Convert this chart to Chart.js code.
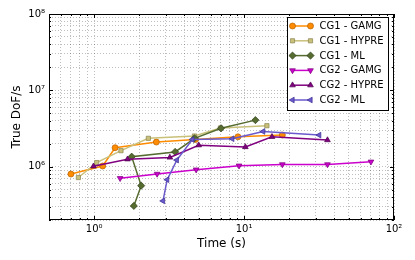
<!DOCTYPE html>
<html lang="en">
<head>
<meta charset="UTF-8">
<title>True DoF/s vs Time</title>
<script src="https://cdn.jsdelivr.net/npm/chart.js"></script>
<style>
  html, body { margin: 0; padding: 0; background: #fff; }
  #wrap { width: 415px; height: 260px; }
</style>
</head>
<body>
<div id="wrap"><canvas id="dofChart" width="415" height="260"></canvas></div>
<script>
// data (time in s, true DoF/s)
const seriesNames = ['CG1 - GAMG', 'CG1 - HYPRE', 'CG1 - ML', 'CG2 - GAMG', 'CG2 - HYPRE', 'CG2 - ML'];

const cg1GamgTime  = [0.70, 1.14, 1.38, 2.60, 4.74, 9.1, 18.0];
const cg1GamgDof   = [8.0e5, 1.02e6, 1.77e6, 2.10e6, 2.27e6, 2.46e6, 2.60e6];

const cg1HypreTime = [0.785, 1.04, 1.51, 2.30, 4.67, 6.96, 14.2];
const cg1HypreDof  = [7.2e5, 1.13e6, 1.62e6, 2.35e6, 2.52e6, 3.21e6, 3.44e6];

const cg1MlTime    = [1.84, 2.06, 1.78, 3.47, 4.67, 7.02, 11.9];
const cg1MlDof     = [3.06e5, 5.64e5, 1.35e6, 1.56e6, 2.35e6, 3.18e6, 4.07e6];

const cg2GamgTime  = [1.49, 2.63, 4.79, 9.26, 18.0, 36.0, 70.2];
const cg2GamgDof   = [7.05e5, 8.03e5, 9.14e5, 1.03e6, 1.07e6, 1.07e6, 1.16e6];

const cg2HypreTime = [0.99, 1.67, 3.20, 4.98, 10.2, 15.35, 36.0];
const cg2HypreDof  = [1.01e6, 1.25e6, 1.32e6, 1.91e6, 1.81e6, 2.46e6, 2.23e6];

const cg2MlTime    = [2.88, 3.07, 3.56, 4.52, 8.34, 13.4, 31.7];
const cg2MlDof     = [3.56e5, 6.76e5, 1.22e6, 2.27e6, 2.32e6, 2.89e6, 2.59e6];

const allTimes = [cg1GamgTime, cg1HypreTime, cg1MlTime, cg2GamgTime, cg2HypreTime, cg2MlTime];
const allDofs  = [cg1GamgDof, cg1HypreDof, cg1MlDof, cg2GamgDof, cg2HypreDof, cg2MlDof];

const lineColors   = ['#ff8c00', '#c9c07a', '#556b2f', '#cc00cc', '#800080', '#6a5acd'];
const markerEdges  = ['#b86000', '#8a8450', '#2f3d18', '#7a007a', '#4a004a', '#3a2e90'];
const pointStyles  = ['circle', 'rect', 'rectRot', 'triangle', 'triangle', 'triangle'];
const pointRotations = [0, 0, 0, 180, 0, 270];
const pointRadii   = [3, 3, 3.6, 3.3, 3.3, 3.3];

const supDigits = { '0': '\u2070', '1': '\u00b9', '2': '\u00b2', '3': '\u00b3', '4': '\u2074',
                    '5': '\u2075', '6': '\u2076', '7': '\u2077', '8': '\u2078', '9': '\u2079' };
function powLabel(v) {
    const e = Math.round(Math.log10(v));
    return '10' + String(e).split('').map(c => supDigits[c] || '\u207b').join('');
}
function isPow10(v) {
    const l = Math.log10(v);
    return Math.abs(l - Math.round(l)) < 1e-9;
}
function logTicks(min, max) {
    const out = [];
    for (let e = Math.floor(Math.log10(min)); e <= Math.ceil(Math.log10(max)); e++) {
        for (let m = 1; m <= 9; m++) {
            const v = m * Math.pow(10, e);
            if (v >= min * 0.9999 && v <= max * 1.0001) out.push(v);
        }
    }
    return out;
}

const datasets = seriesNames.map((name, i) => ({
    label: name,
    data: allTimes[i].map((t, k) => ({ x: t, y: allDofs[i][k] })),
    showLine: true,
    borderColor: lineColors[i],
    backgroundColor: lineColors[i],
    borderWidth: 1.5,
    pointStyle: pointStyles[i],
    rotation: pointRotations[i],
    pointRadius: pointRadii[i],
    pointBackgroundColor: lineColors[i],
    pointBorderColor: markerEdges[i],
    pointBorderWidth: 0.7,
    order: seriesNames.length - i
}));

const gridColor = 'rgba(0,0,0,0.32)';

// black frame + inward ticks, like the matplotlib axes
const framePlugin = {
    id: 'frame',
    afterDraw(chart) {
        const { ctx, chartArea: a, scales } = chart;
        ctx.save();
        ctx.strokeStyle = '#000';
        ctx.lineWidth = 1;
        ctx.strokeRect(Math.round(a.left) + 0.5, Math.round(a.top) + 0.5,
                       Math.round(a.right - a.left) - 1, Math.round(a.bottom - a.top) - 1);
        ctx.beginPath();
        scales.x.ticks.forEach(t => {
            const px = Math.round(scales.x.getPixelForValue(t.value)) + 0.5;
            const len = isPow10(t.value) ? 4 : 2;
            ctx.moveTo(px, a.bottom); ctx.lineTo(px, a.bottom - len);
            ctx.moveTo(px, a.top); ctx.lineTo(px, a.top + len);
        });
        scales.y.ticks.forEach(t => {
            const py = Math.round(scales.y.getPixelForValue(t.value)) + 0.5;
            const len = isPow10(t.value) ? 4 : 2;
            ctx.moveTo(a.left, py); ctx.lineTo(a.left + len, py);
            ctx.moveTo(a.right, py); ctx.lineTo(a.right - len, py);
        });
        ctx.stroke();
        ctx.restore();
    }
};

// legend box in the upper right of the plot
const legendPlugin = {
    id: 'boxLegend',
    afterDraw(chart) {
        const { ctx, chartArea: a } = chart;
        const boxW = 101, boxH = 93, rowH = 14.8;
        const x0 = Math.round(a.right - 6 - boxW) + 0.5;
        const y0 = Math.round(a.top + 3) + 0.5;
        ctx.save();
        ctx.fillStyle = '#fff';
        ctx.strokeStyle = '#000';
        ctx.lineWidth = 1;
        ctx.fillRect(x0, y0, boxW, boxH);
        ctx.strokeRect(x0, y0, boxW, boxH);
        ctx.font = '10px "DejaVu Sans"';
        ctx.textBaseline = 'middle';
        chart.data.datasets.forEach((ds, i) => {
            const y = y0 + 8.5 + i * rowH;
            const lx1 = x0 + 5, lx2 = x0 + 23;
            ctx.strokeStyle = ds.borderColor;
            ctx.lineWidth = ds.borderWidth;
            ctx.beginPath();
            ctx.moveTo(lx1, y); ctx.lineTo(lx2, y);
            ctx.stroke();
            ctx.fillStyle = ds.pointBackgroundColor;
            ctx.strokeStyle = ds.pointBorderColor;
            ctx.lineWidth = ds.pointBorderWidth;
            const opts = { pointStyle: ds.pointStyle, rotation: ds.rotation, radius: ds.pointRadius, borderWidth: ds.pointBorderWidth };
            Chart.helpers.drawPoint(ctx, opts, lx1, y);
            Chart.helpers.drawPoint(ctx, opts, lx2, y);
            ctx.fillStyle = '#000';
            ctx.fillText(ds.label, x0 + 32, y + 0.5);
        });
        ctx.restore();
    }
};

const ctx = document.getElementById('dofChart').getContext('2d');
new Chart(ctx, {
    type: 'scatter',
    data: { datasets: datasets },
    options: {
        responsive: false,
        animation: false,
        devicePixelRatio: 1,
        layout: { padding: { left: 0, right: 21, top: 14, bottom: 0 } },
        plugins: { legend: { display: false }, tooltip: { enabled: false } },
        scales: {
            x: {
                type: 'logarithmic',
                min: 0.5,
                max: 100,
                afterBuildTicks: s => { s.ticks = logTicks(0.5, 100).map(v => ({ value: v, major: isPow10(v) })); },
                afterFit: s => { s.height = 40; },
                ticks: {
                    autoSkip: false,
                    maxRotation: 0,
                    padding: 3,
                    color: '#000',
                    font: { family: 'DejaVu Sans', size: 10 },
                    callback: v => (isPow10(v) ? powLabel(v) : '')
                },
                grid: { color: gridColor, lineWidth: 0.8, drawTicks: false },
                border: { display: false, dash: [1, 2] },
                title: {
                    display: true,
                    text: 'Time (s)',
                    color: '#000',
                    font: { family: 'DejaVu Sans', size: 12 },
                    padding: { top: 0, bottom: 9 }
                }
            },
            y: {
                type: 'logarithmic',
                min: 2e5,
                max: 1e8,
                afterBuildTicks: s => { s.ticks = logTicks(2e5, 1e8).map(v => ({ value: v, major: isPow10(v) })); },
                afterFit: s => { s.width = 49; },
                ticks: {
                    autoSkip: false,
                    padding: 4,
                    color: '#000',
                    font: { family: 'DejaVu Sans', size: 10 },
                    callback: v => (isPow10(v) ? powLabel(v) : '')
                },
                grid: { color: gridColor, lineWidth: 0.8, drawTicks: false },
                border: { display: false, dash: [1, 2] },
                title: {
                    display: true,
                    text: 'True DoF/s',
                    color: '#000',
                    font: { family: 'DejaVu Sans', size: 12 },
                    padding: { top: 10, bottom: 0 }
                }
            }
        }
    },
    plugins: [framePlugin, legendPlugin]
});
</script>
</body>
</html>
